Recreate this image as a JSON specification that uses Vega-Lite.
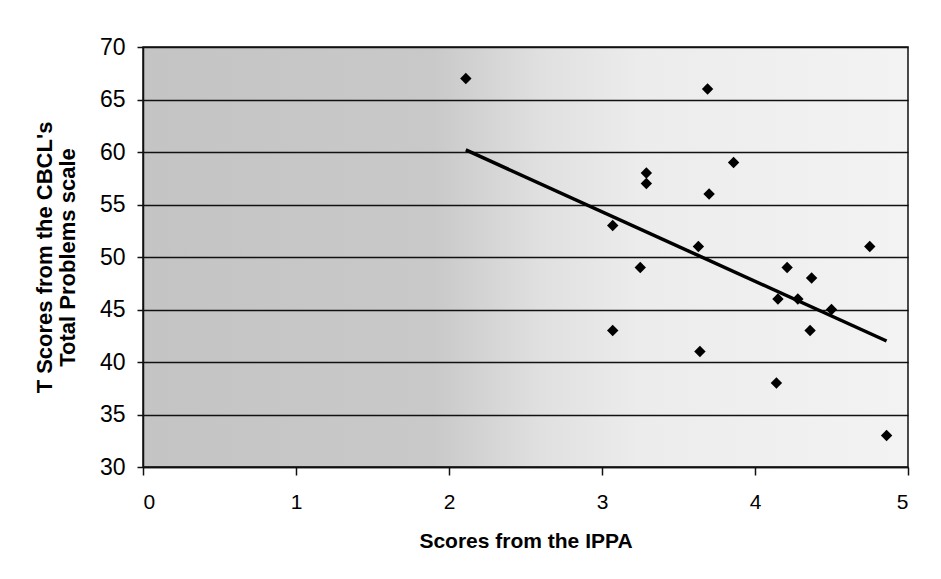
{
  "$schema": "https://vega.github.io/schema/vega-lite/v6.json",
  "width": 765,
  "height": 420,
  "autosize": "none",
  "padding": {"left": 143, "top": 47, "right": 33, "bottom": 112},
  "background": "white",
  "config": {
    "view": {
      "fill": {
        "gradient": "linear",
        "x1": 0, "y1": 0, "x2": 1, "y2": 0,
        "stops": [
          {"offset": 0, "color": "#c4c4c4"},
          {"offset": 0.38, "color": "#c9c9c9"},
          {"offset": 0.52, "color": "#e0e0e0"},
          {"offset": 0.65, "color": "#ececec"},
          {"offset": 1, "color": "#f3f3f3"}
        ]
      },
      "stroke": "#111111",
      "strokeWidth": 1.5
    }
  },
  "layer": [
    {
      "data": {
        "values": [
          {"ippa": 2.11, "tscore": 60.2},
          {"ippa": 4.86, "tscore": 42.0}
        ]
      },
      "mark": {"type": "line", "color": "#000000", "strokeWidth": 3.5},
      "encoding": {
        "x": {
          "field": "ippa",
          "type": "quantitative",
          "scale": {"domain": [0, 5], "nice": false, "zero": false},
          "axis": {
            "values": [0, 1, 2, 3, 4, 5],
            "format": "d",
            "grid": false,
            "tickSize": 8,
            "tickColor": "#111111",
            "tickWidth": 1.5,
            "domainColor": "#111111",
            "domainWidth": 1.5,
            "labelFont": "Liberation Sans Narrow, Liberation Sans",
            "labelFontSize": 21,
            "labelColor": "#000000",
            "labelPadding": 16,
            "title": "Scores from the IPPA",
            "titleFont": "Liberation Sans Narrow, Liberation Sans",
            "titleFontSize": 21,
            "titleFontWeight": "bold",
            "titleColor": "#000000",
            "titlePadding": 18
          }
        },
        "y": {
          "field": "tscore",
          "type": "quantitative",
          "scale": {"domain": [30, 70], "nice": false, "zero": false},
          "axis": {
            "values": [30, 35, 40, 45, 50, 55, 60, 65, 70],
            "format": "d",
            "grid": true,
            "gridColor": "#111111",
            "gridWidth": 1.5,
            "gridOpacity": 1,
            "tickSize": 6,
            "tickColor": "#111111",
            "tickWidth": 1.5,
            "domainColor": "#111111",
            "domainWidth": 1.5,
            "labelFont": "Liberation Sans",
            "labelFontSize": 23,
            "labelColor": "#000000",
            "labelPadding": 12,
            "title": ["T Scores from the CBCL's", "Total Problems scale"],
            "titleFont": "Liberation Sans",
            "titleFontSize": 22,
            "titleFontWeight": "bold",
            "titleLineHeight": 23,
            "titleColor": "#000000",
            "titlePadding": 20
          }
        }
      }
    },
    {
      "data": {
        "values": [
          {"ippa": 2.11, "tscore": 67},
          {"ippa": 3.69, "tscore": 66},
          {"ippa": 3.29, "tscore": 58},
          {"ippa": 3.29, "tscore": 57},
          {"ippa": 3.86, "tscore": 59},
          {"ippa": 3.70, "tscore": 56},
          {"ippa": 3.07, "tscore": 53},
          {"ippa": 3.63, "tscore": 51},
          {"ippa": 4.75, "tscore": 51},
          {"ippa": 3.25, "tscore": 49},
          {"ippa": 4.21, "tscore": 49},
          {"ippa": 4.37, "tscore": 48},
          {"ippa": 4.15, "tscore": 46},
          {"ippa": 4.28, "tscore": 46},
          {"ippa": 4.50, "tscore": 45},
          {"ippa": 3.07, "tscore": 43},
          {"ippa": 4.36, "tscore": 43},
          {"ippa": 3.64, "tscore": 41},
          {"ippa": 4.14, "tscore": 38},
          {"ippa": 4.86, "tscore": 33}
        ]
      },
      "mark": {"type": "point", "shape": "diamond", "filled": true, "color": "#000000", "size": 130, "opacity": 1},
      "encoding": {
        "x": {"field": "ippa", "type": "quantitative"},
        "y": {"field": "tscore", "type": "quantitative"}
      }
    }
  ]
}
